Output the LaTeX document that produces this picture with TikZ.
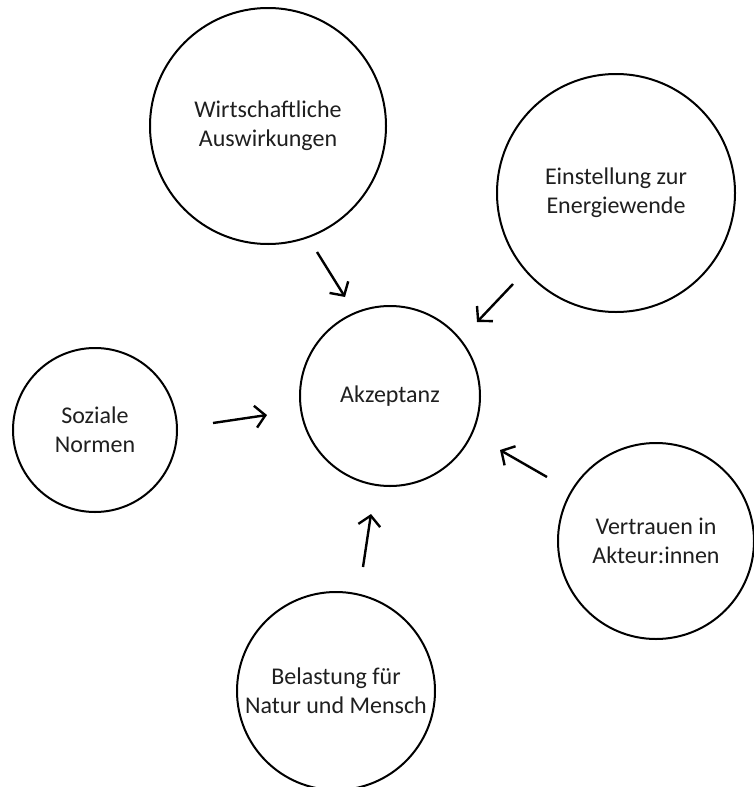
\documentclass[tikz,border=0pt]{standalone}
\usepackage{fontspec}
\setmainfont{Carlito}
\usetikzlibrary{arrows.meta}
\begin{document}
\begin{tikzpicture}[x=1pt,y=-1pt,
  bub/.style={circle,draw=black,line width=2pt,inner sep=0pt,align=center,
    font=\fontsize{24}{29}\selectfont,text=black!88},
  arr/.style={line width=2.4pt,-{Straight Barb[length=10pt,width=22pt,line width=2.4pt]}}]
\useasboundingbox (0,0) rectangle (753,787);
\fill[white] (0,0) rectangle (753,787);
\node[bub,minimum size=236pt] (wa) at (268,126) {Wirtschaftliche\\Auswirkungen};
\node[bub,minimum size=238pt] (ee) at (616,193) {Einstellung zur\\Energiewende};
\node[bub,minimum size=180pt] (akz) at (390,396) {Akzeptanz};
\node[bub,minimum size=164pt] (sn) at (95,430) {Soziale\\Normen};
\node[bub,minimum size=196pt] (va) at (656,541) {Vertrauen in\\Akteur:innen};
\node[bub,minimum size=198pt] (bn) at (336,691) {Belastung für\\Natur und Mensch};
\coordinate (wa1) at (317,252); \coordinate (wa2) at (345,297);
\coordinate (ee1) at (513,284); \coordinate (ee2) at (477,322);
\coordinate (sn1) at (213,423); \coordinate (sn2) at (267,415);
\coordinate (va1) at (547,477); \coordinate (va2) at (500,450);
\coordinate (bn1) at (363,567); \coordinate (bn2) at (371,514);
\draw[arr] (wa1) -- (wa2);
\draw[arr] (ee1) -- (ee2);
\draw[arr] (sn1) -- (sn2);
\draw[arr] (va1) -- (va2);
\draw[arr] (bn1) -- (bn2);
\end{tikzpicture}
\end{document}
